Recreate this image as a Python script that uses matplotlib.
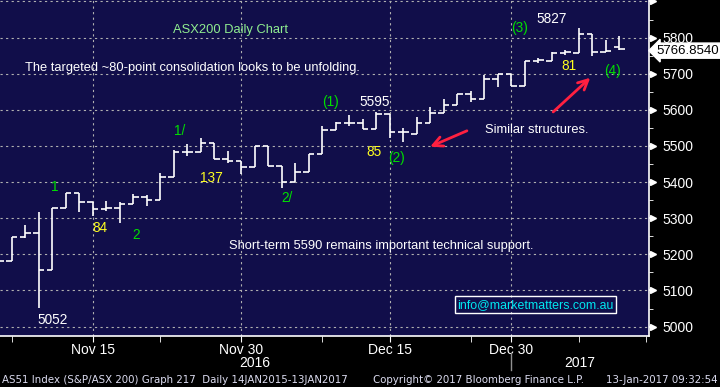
import numpy as np
import matplotlib.pyplot as plt
from matplotlib.transforms import blended_transform_factory

# ASX200 daily OHLC, Nov 4 2016 - Jan 12 2017
dates = ["Nov 4", "Nov 7", "Nov 8", "Nov 9", "Nov 10", "Nov 11", "Nov 14", "Nov 15",
         "Nov 16", "Nov 17", "Nov 18", "Nov 21", "Nov 22", "Nov 23", "Nov 24", "Nov 25",
         "Nov 28", "Nov 29", "Nov 30", "Dec 1", "Dec 2", "Dec 5", "Dec 6", "Dec 7",
         "Dec 8", "Dec 9", "Dec 12", "Dec 13", "Dec 14", "Dec 15", "Dec 16", "Dec 19",
         "Dec 20", "Dec 21", "Dec 22", "Dec 23", "Dec 28", "Dec 29", "Dec 30", "Jan 3",
         "Jan 4", "Jan 5", "Jan 6", "Jan 9", "Jan 10", "Jan 11", "Jan 12"]
opens = [5150, 5182, 5249, 5259, 5157, 5328, 5369, 5344, 5325, 5328, 5339, 5358,
         5350, 5414, 5484, 5484, 5508, 5463, 5458, 5441, 5500, 5445, 5400, 5427,
         5478, 5543, 5563, 5563, 5546, 5588, 5538, 5533, 5563, 5591, 5614, 5644,
         5629, 5685, 5699, 5666, 5735, 5736, 5757, 5757, 5810, 5761, 5773]
highs = [5190, 5249, 5282, 5316, 5328, 5369, 5369, 5344, 5348, 5344, 5367, 5365,
         5425, 5489, 5506, 5523, 5508, 5486, 5458, 5500, 5500, 5445, 5454, 5478,
         5554, 5566, 5586, 5575, 5595, 5588, 5551, 5580, 5607, 5630, 5644, 5651,
         5697, 5699, 5699, 5735, 5743, 5760, 5766, 5827, 5810, 5794, 5803]
lows = [5140, 5182, 5246, 5052, 5157, 5328, 5316, 5305, 5320, 5288, 5339, 5335,
        5350, 5414, 5473, 5482, 5463, 5454, 5423, 5441, 5445, 5385, 5400, 5427,
        5478, 5543, 5556, 5546, 5546, 5522, 5512, 5533, 5563, 5591, 5614, 5623,
        5629, 5663, 5666, 5666, 5731, 5736, 5752, 5757, 5750, 5761, 5766]
closes = [5182, 5249, 5259, 5157, 5328, 5369, 5344, 5325, 5328, 5339, 5358, 5350,
          5414, 5484, 5484, 5508, 5463, 5458, 5441, 5500, 5445, 5400, 5427, 5478,
          5543, 5563, 5563, 5546, 5588, 5538, 5538, 5563, 5591, 5614, 5644, 5629,
          5685, 5699, 5666, 5735, 5737, 5757, 5760, 5810, 5761, 5764, 5767]
last_price = 5766.8540

major_dates = ["Nov 15", "Nov 30", "Dec 15", "Dec 30"]
minor_dates = ["Nov 7", "Nov 22", "Dec 8", "Dec 23", "Jan 9"]
price_ticks = [5000, 5100, 5200, 5300, 5400, 5500, 5600, 5700, 5800, 5900]
price_labels = ["5000", "5100", "5200", "5300", "5400", "5500", "5600", "5700", "5800", ""]

bg = "#110e4a"
green = "#00e000"
yellow = "#ffff20"

fig = plt.figure(figsize=(7.2, 3.87), dpi=100, facecolor="black")
ax = fig.add_axes([0, 0.1318, 0.9014, 0.8682], facecolor=bg)

x = np.arange(len(dates))
ax.vlines(x, lows, highs, color="white", lw=1.2)
ax.hlines(opens, x - 0.4, x, color="white", lw=1.2)
ax.hlines(closes, x, x + 0.4, color="white", lw=1.2)

ax.set_xlim(0.13, 48.2)
ax.set_ylim(4974, 5904)

ax.set_xticks([dates.index(d) for d in major_dates])
ax.set_xticklabels(major_dates)
ax.set_xticks([dates.index(d) for d in minor_dates] + [48], minor=True)
ax.yaxis.tick_right()
ax.set_yticks(price_ticks)
ax.set_yticklabels(price_labels)
ax.set_yticks(np.arange(5050, 5900, 100), minor=True)
ax.tick_params(axis="both", which="both", colors="white", labelsize=10)
ax.tick_params(axis="x", which="major", length=4, pad=1)
ax.tick_params(axis="x", which="minor", length=4)
ax.tick_params(axis="y", which="major", length=4, width=1.2, pad=6)
ax.tick_params(axis="y", which="minor", length=3)
for lab in ax.get_xticklabels() + ax.get_yticklabels():
    lab.set_family("Liberation Sans")
ax.grid(True, which="major", color="#b0b0b0", ls=(0, (2, 3)), lw=0.8)

# small triangle heads on the price ticks
tr = blended_transform_factory(ax.transAxes, ax.transData)
ax.plot([1.006] * len(price_ticks), price_ticks, ls="none", marker=">", ms=4.5,
        color="white", transform=tr, clip_on=False)

for side in ["left", "top"]:
    ax.spines[side].set_visible(False)
for side in ["right", "bottom"]:
    ax.spines[side].set_color("white")
    ax.spines[side].set_linewidth(1.2)

font = dict(family="Liberation Sans", fontsize=9.3)
ax.text(17.2, 5821, "ASX200 Daily Chart", color="#90ee90", ha="center", va="center", **font)
ax.text(2.0, 5716, "The targeted ~80-point consolidation looks to be unfolding.",
        color="white", ha="left", va="center", **font)
ax.text(28.4, 5223, "Short-term 5590 remains important technical support.",
        color="white", ha="center", va="center", **font)
ax.text(39.9, 5545, "Similar structures.", color="white", ha="center", va="center", **font)

labels = [(4.2, 5387, "1", green), (7.5, 5273, "84", yellow), (10.2, 5254, "2", green),
          (4.0, 5019, "5052", "white"), (13.4, 5542, "1/", green), (15.8, 5412, "137", yellow),
          (21.4, 5356, "2/", green), (24.6, 5622, "(1)", green), (27.9, 5622, "5595", "white"),
          (27.85, 5484, "85", yellow), (29.5, 5467, "(2)", green), (38.6, 5827, "(3)", green),
          (41.0, 5852, "5827", "white"), (42.3, 5722, "81", yellow), (45.5, 5708, "(4)", green)]
for lx, ly, s, c in labels:
    ax.text(lx, ly, s, color=c, ha="center", va="center", family="Liberation Sans",
            fontsize=9.8)

ax.text(39.8, 5060, "info@marketmatters.com.au", color="#00e8f0", ha="center", va="center",
        family="Liberation Sans", fontsize=8.9,
        bbox=dict(boxstyle="square,pad=0.2", fc="none", ec="white", lw=1))

arrow = dict(arrowstyle="->,head_length=0.7,head_width=0.35", color="#ff2040", lw=2)
ax.annotate("", xy=(31.8, 5495), xytext=(34.9, 5545), arrowprops=arrow)
ax.annotate("", xy=(44.0, 5694), xytext=(40.95, 5589), arrowprops=arrow)

ax.text(1.012, last_price - 3, f"{last_price:.4f}", transform=tr, color="black", ha="left",
        va="center", family="Liberation Sans", fontsize=9.5, zorder=5,
        bbox=dict(boxstyle="larrow,pad=0.12", fc="white", ec="white"))

trx = blended_transform_factory(ax.transData, ax.transAxes)
ax.text(19.0, -0.08, "2016", transform=trx, color="white", ha="center", va="center",
        family="Liberation Sans", fontsize=10)
ax.text(43.1, -0.08, "2017", transform=trx, color="white", ha="center", va="center",
        family="Liberation Sans", fontsize=10)
ax.plot([38, 38], [-0.05, -0.1], transform=trx, color="#909090", lw=1, clip_on=False)

foot = dict(color="#dcdcf0", family="DejaVu Sans", fontsize=7.4, va="center")
fig.text(0.003, 0.018, "AS51 Index (S&P/ASX 200) Graph 217  Daily 14JAN2015-13JAN2017",
         ha="left", **foot)
fig.text(0.518, 0.018, "Copyright\u00a9 2017 Bloomberg Finance L.P.", ha="left", **foot)
fig.text(0.997, 0.018, "13-Jan-2017 09:32:54", ha="right", **foot)

fig.savefig("out.png", dpi=100, facecolor="black")
